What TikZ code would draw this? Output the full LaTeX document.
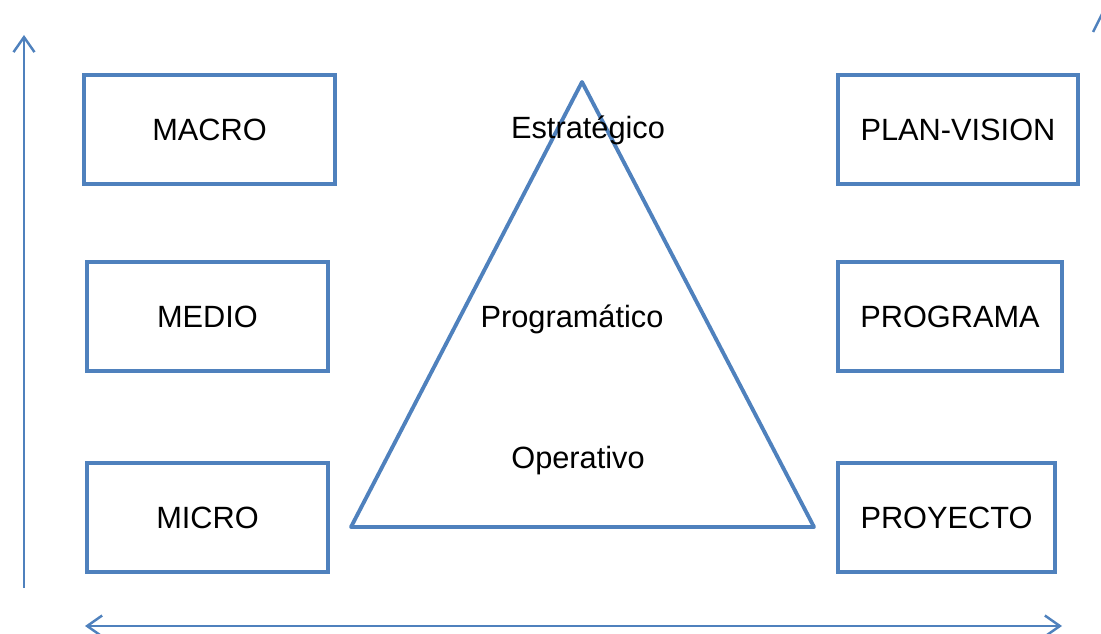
\documentclass[tikz,border=0pt]{standalone}
\usepackage{fontspec}
\setmainfont{Liberation Sans}
\usetikzlibrary{arrows.meta}
\definecolor{lineblue}{RGB}{79,129,189}
\begin{document}
\begin{tikzpicture}[x=0.02cm, y=-0.02cm, font=\fontsize{17.5}{21}\selectfont,
  levelbox/.style={draw=lineblue, line width=2.2pt, minimum height=2.18cm, inner sep=0pt},
  axis/.style={draw=lineblue, line width=1.4pt},
  barb/.tip={Straight Barb[length=3mm, width=4.2mm, line width=1.4pt]}]
\useasboundingbox (0,0) rectangle (1101,634);
% left column
\node [levelbox, minimum width=5.02cm] (macro) at (209.5,129.5) {MACRO};
\node [levelbox, minimum width=4.82cm] (medio) at (207.5,316.5) {MEDIO};
\node [levelbox, minimum width=4.82cm] (micro) at (207.5,517.5) {MICRO};
% right column
\node [levelbox, minimum width=4.80cm] (plan) at (958,129.5) {PLAN-VISION};
\node [levelbox, minimum width=4.48cm] (programa) at (950,316.5) {PROGRAMA};
\node [levelbox, minimum width=4.34cm] (proyecto) at (946.5,517.5) {PROYECTO};
% triangle
\coordinate (apex) at (582,82);
\coordinate (baseL) at (351,527);
\coordinate (baseR) at (814,527);
\draw [lineblue, line width=2.2pt, line join=round] (apex) -- (baseR) -- (baseL) -- cycle;
\node (estrategico) at (588,130) {Estratégico};
\node (programatico) at (572,319) {Programático};
\node (operativo) at (578,461) {Operativo};
% axes
\coordinate (vbot) at (24,588);
\coordinate (vtop) at (24,35);
\draw [axis, -barb] (vbot) -- (vtop);
\coordinate (hleft) at (85,626);
\coordinate (hright) at (1062,626);
\draw [axis, barb-barb] (hleft) -- (hright);
\coordinate (cut1) at (1093,32);
\coordinate (cut2) at (1102,14);
\draw [axis] (cut1) -- (cut2);
\end{tikzpicture}
\end{document}
